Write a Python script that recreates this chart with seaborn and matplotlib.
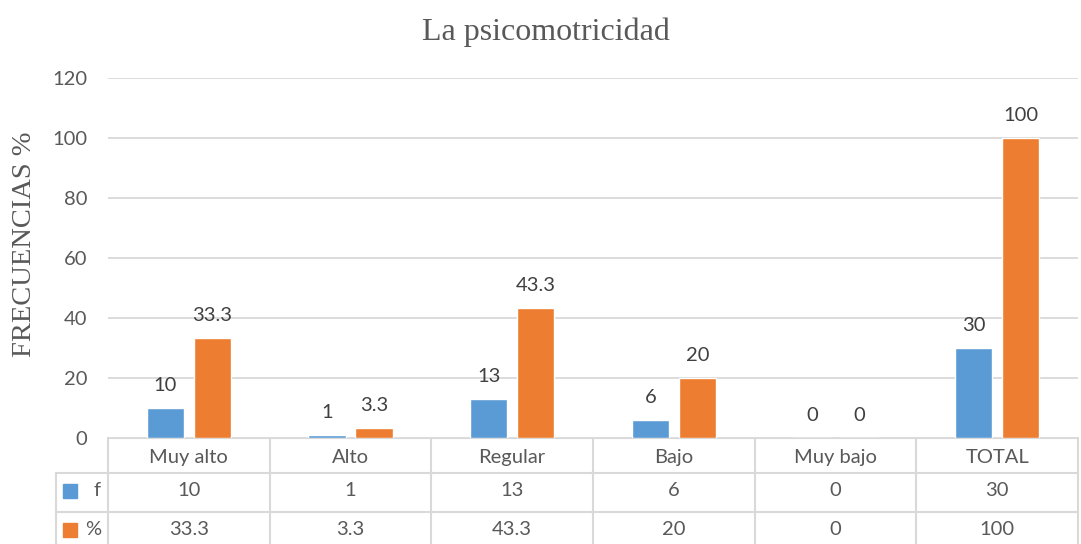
import pandas as pd
import matplotlib
matplotlib.use("Agg")
import matplotlib.pyplot as plt
import seaborn as sns
from matplotlib.patches import Rectangle
from matplotlib.lines import Line2D

# Chart values
categories = ['Muy alto', 'Alto', 'Regular', 'Bajo', 'Muy bajo', 'TOTAL']
f_values = [10, 1, 13, 6, 0, 30]
pct_values = [33.3, 3.3, 43.3, 20, 0, 100]
series_names = ['f', '%']
pct_labels = ['33.3', '3.3', '43.3', '20', '0', '100']
yticks = [0, 20, 40, 60, 80, 100, 120]

colors = ['#5B9BD5', '#ED7D31']
text_col = '#595959'
grid_col = '#D9D9D9'

df = pd.DataFrame({
    'cat': categories * 2,
    'serie': [series_names[0]] * len(categories) + [series_names[1]] * len(categories),
    'val': f_values + pct_values,
})

sns.set_style('white')
plt.rcParams['font.family'] = ['Lato', 'DejaVu Sans']
fs = 14.5

W, H = 1081, 544
fig = plt.figure(figsize=(W / 100, H / 100), dpi=100)
x0, x1, y0, y1 = 108, 1078, 438, 78
ax = fig.add_axes([x0 / W, 1 - y0 / H, (x1 - x0) / W, (y0 - y1) / H])

sns.barplot(data=df, x='cat', y='val', hue='serie', palette=colors,
            width=0.58, gap=0.2, ax=ax, legend=False, saturation=1)

ax.set_ylim(0, 120)
ax.set_xlim(-0.5, len(categories) - 0.5)
ax.set_yticks(yticks)
ax.set_yticklabels([str(t) for t in yticks], color=text_col, fontsize=fs)
ax.tick_params(axis='y', length=0, pad=15)
ax.set_xticks([])
ax.set_xlabel('')
ax.set_ylabel('')
ax.yaxis.grid(True, color=grid_col, linewidth=1.3)
ax.set_axisbelow(True)
for s in ax.spines.values():
    s.set_visible(False)

for cont, labs in zip(ax.containers, [[str(v) for v in f_values], pct_labels]):
    ax.bar_label(cont, labels=labs, padding=10, fontsize=fs, color='#404040')


def fx(px):
    return px / W


def fy(py):
    return 1 - py / H


fig.text(fx(546), fy(32), 'La psicomotricidad', ha='center', va='center',
         family=['Liberation Serif'], fontsize=23, color=text_col)
fig.text(fx(25), fy(244), 'FRECUENCIAS %', ha='center', va='center', rotation=90,
         family=['Liberation Serif'], fontsize=20.5, color=text_col)

# data table below the plot
col_w = (x1 - x0) / len(categories)
rows = [438, 473, 512, 551]
leg_x = 56
lw = 1.5
fig.add_artist(Line2D([fx(x0), fx(x1)], [fy(rows[0])] * 2, color=grid_col, lw=lw, zorder=0))
for r in rows[1:3]:
    fig.add_artist(Line2D([fx(leg_x), fx(x1)], [fy(r)] * 2, color=grid_col, lw=lw))
for i in range(len(categories) + 1):
    xx = x0 + i * col_w
    fig.add_artist(Line2D([fx(xx)] * 2, [fy(rows[0]), fy(rows[3])], color=grid_col, lw=lw))
fig.add_artist(Line2D([fx(leg_x)] * 2, [fy(rows[1]), fy(rows[3])], color=grid_col, lw=lw))

table_rows = [[str(v) for v in f_values], pct_labels]
for i, c in enumerate(categories):
    cx = fx(x0 + (i + 0.5) * col_w)
    fig.text(cx, fy((rows[0] + rows[1]) / 2 + 2), c, ha='center', va='center',
             fontsize=fs, color=text_col)
    for j, row in enumerate(table_rows):
        fig.text(cx, fy((rows[j + 1] + rows[j + 2]) / 2 - 2), row[i], ha='center',
                 va='center', fontsize=fs, color=text_col)

# legend keys in the table
for j, name in enumerate(series_names):
    cy = (rows[j + 1] + rows[j + 2]) / 2 - 2
    fig.add_artist(Rectangle((fx(63), fy(cy + 7)), 14 / W, 14 / H,
                             color=colors[j], transform=fig.transFigure))
    fig.text(fx(101), fy(cy), name, ha='right', va='center', fontsize=fs,
             color=text_col)

fig.savefig('out.png', dpi=100)
